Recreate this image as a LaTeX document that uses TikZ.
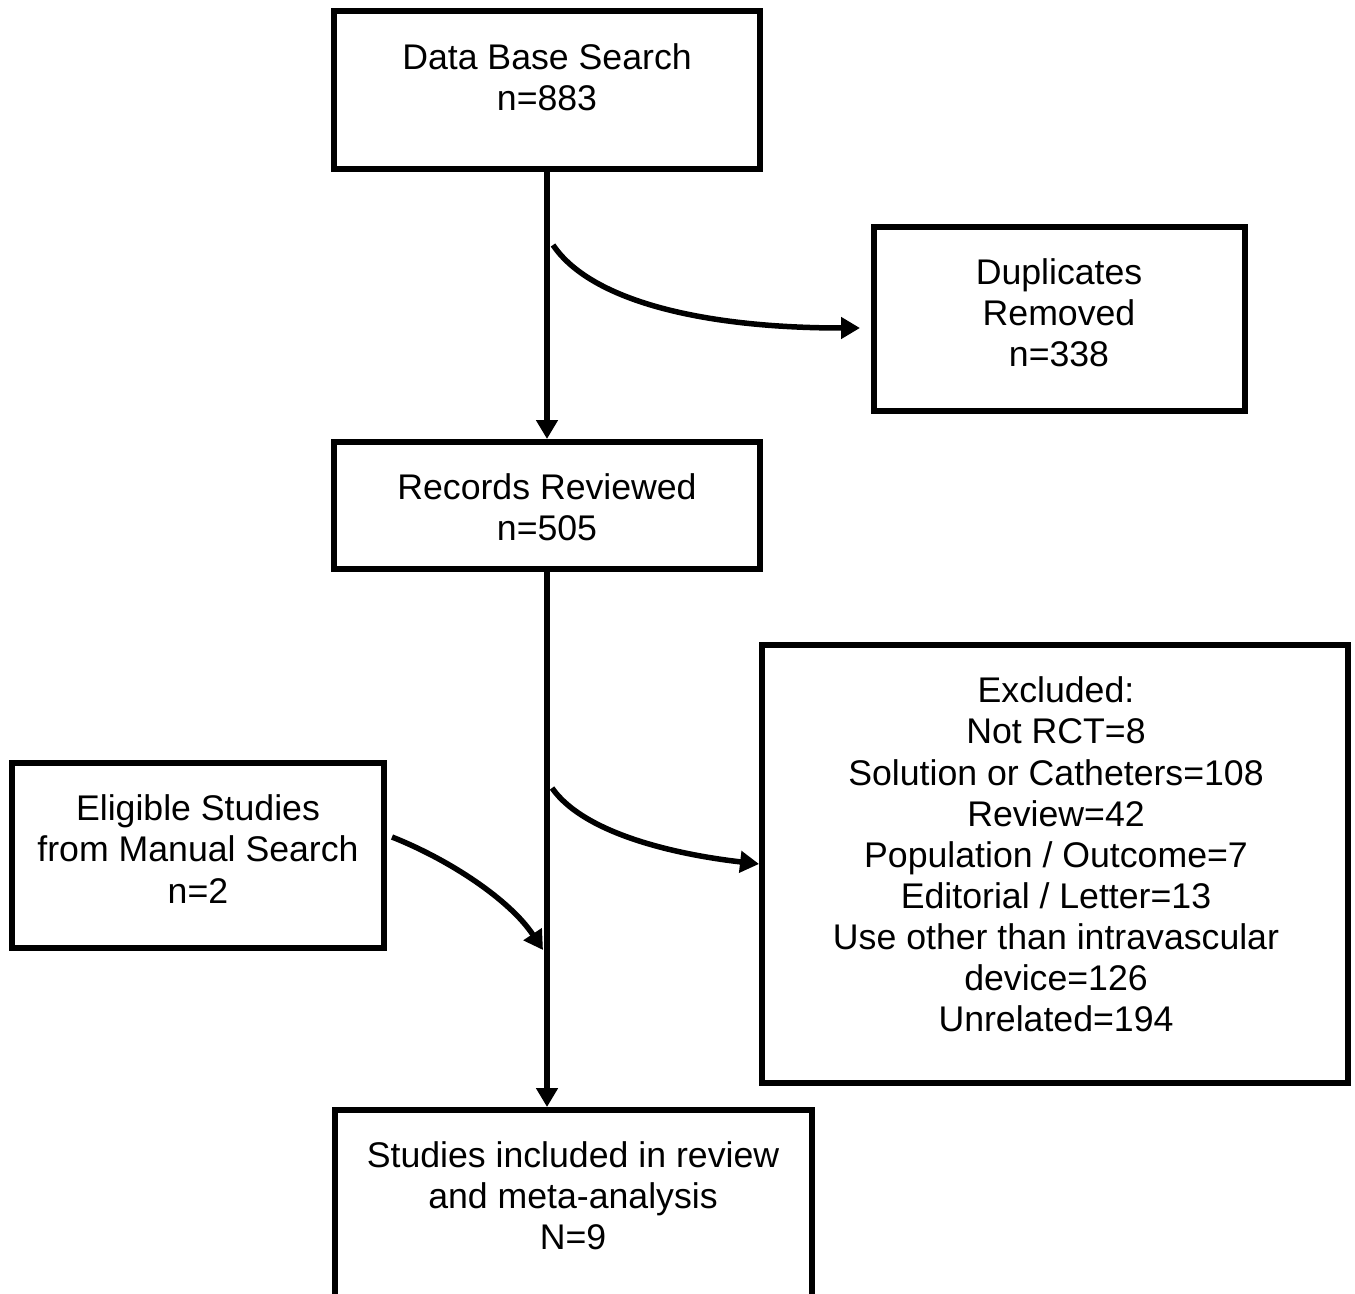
\documentclass[tikz,border=0pt]{standalone}
\usepackage{fontspec}
\setmainfont{Liberation Sans}
\usetikzlibrary{arrows.meta}
\begin{document}
\begin{tikzpicture}[x=0.02cm,y=-0.02cm,
  box/.style={draw=black,line width=0.12cm,inner sep=0pt,fill=none},
  txt/.style={align=center,inner sep=0pt,font=\fontsize{20.3pt}{23.4pt}\selectfont},
  arr/.style={line width=0.11cm,-{Triangle[length=0.38cm,width=0.42cm]}}]
\clip (0,0) rectangle (1355,1294);
\fill[white] (0,0) rectangle (1355,1294);
% boxes
\node[box,minimum width=8.52cm,minimum height=3.15cm] (dbs) at (547,90) {};
\node[box,minimum width=7.42cm,minimum height=3.68cm] (dup) at (1059.5,319) {};
\node[box,minimum width=8.52cm,minimum height=2.54cm] (rec) at (547,505.5) {};
\node[box,minimum width=11.72cm,minimum height=8.76cm] (exc) at (1055,864) {};
\node[box,minimum width=7.43cm,minimum height=3.70cm] (eli) at (198,855.5) {};
\node[box,minimum width=9.54cm,minimum height=4.0cm] (stu) at (573.5,1210) {};
% texts
\node[txt] (tdbs) at (547,77.5) {Data Base Search\\n=883};
\node[txt] (tdup) at (1059,313) {Duplicates\\Removed\\n=338};
\node[txt] (trec) at (547,507) {Records Reviewed\\n=505};
\node[txt] (texc) at (1056,854.5) {Excluded:\\Not RCT=8\\Solution or Catheters=108\\Review=42\\Population / Outcome=7\\Editorial / Letter=13\\Use other than intravascular\\device=126\\Unrelated=194};
\node[txt] (teli) at (198,849) {Eligible Studies\\from Manual Search\\n=2};
\node[txt] (tstu) at (573,1196) {Studies included in review\\and meta-analysis\\N=9};
% connector points
\coordinate (s1) at (553,245);
\coordinate (t1) at (860,328);
\coordinate (s2) at (552,788);
\coordinate (s3) at (392,837);
\coordinate (t3) at (543,950);
% connectors
\draw[arr] (dbs.south) -- (rec.north);
\draw[arr] (rec.south) -- (rec.south |- stu.north);
\draw[arr] (s1) .. controls (590,300) and (700,328) .. (t1);
\draw[arr] (s2) .. controls (585,835) and (680,855) .. (exc.west);
\draw[arr] (s3) .. controls (450,860) and (510,900) .. (t3);
\end{tikzpicture}
\end{document}
